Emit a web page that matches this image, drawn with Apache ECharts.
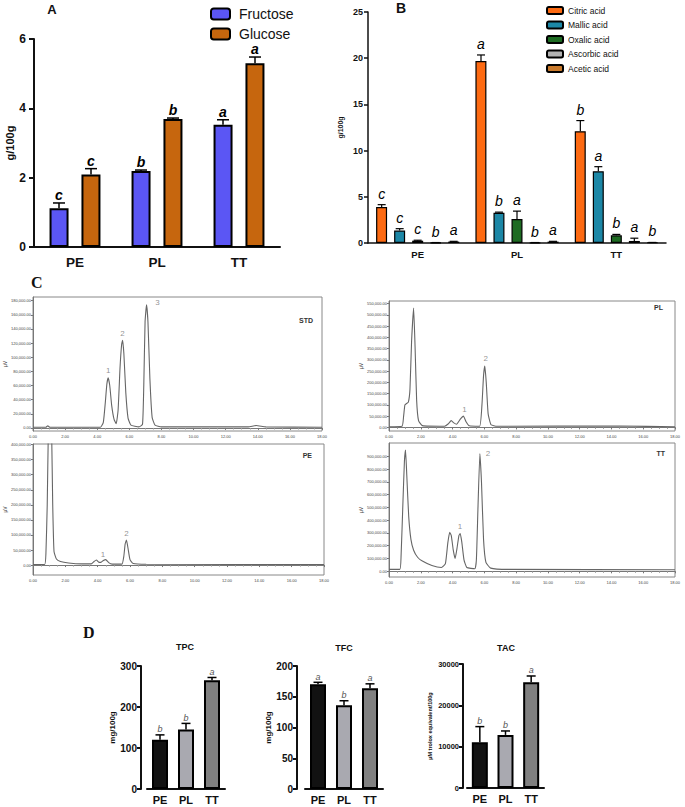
<!DOCTYPE html>
<html><head><meta charset="utf-8">
<script src="https://cdn.jsdelivr.net/npm/echarts@6/dist/echarts.min.js"></script>
<style>html,body{margin:0;padding:0;background:#fff}#c{width:685px;height:807px}</style>
</head><body><div id="c"></div>
<script>
// ---------- DATA ----------
const groups = ['PE', 'PL', 'TT'];

// Panel A: sugars (g/100g)
const fructose = [1.12, 2.19, 3.53];
const fructoseErr = [0.15, 0.03, 0.14];
const fructoseLetters = ['c', 'b', 'a'];
const glucose = [2.09, 3.69, 5.30];
const glucoseErr = [0.17, 0.03, 0.18];
const glucoseLetters = ['c', 'b', 'a'];
const sugarTicks = [0, 2, 4, 6];

// Panel B: organic acids (g/100g)
const acidNames = ['Citric acid', 'Mallic acid', 'Oxalic acid', 'Ascorbic acid', 'Acetic acid'];
const citric = [3.9, 19.7, 12.1];
const citricErr = [0.25, 0.65, 1.15];
const citricLetters = ['c', 'a', 'b'];
const mallic = [1.35, 3.28, 7.76];
const mallicErr = [0.2, 0.06, 0.5];
const mallicLetters = ['c', 'b', 'a'];
const oxalic = [0.25, 2.6, 0.83];
const oxalicErr = [0.05, 0.85, 0.1];
const oxalicLetters = ['c', 'a', 'b'];
const ascorbic = [0.04, 0.04, 0.22];
const ascorbicErr = [0.01, 0.01, 0.3];
const ascorbicLetters = ['b', 'b', 'a'];
const acetic = [0.15, 0.15, 0.05];
const aceticErr = [0.03, 0.03, 0.01];
const aceticLetters = ['a', 'a', 'b'];
const acidTicks = [0, 5, 10, 15, 20, 25];

// Panel C: chromatograms [time (min), signal (µV)]
const stdTrace = [[0,1000],[0.8,1000],[0.92,3000],[1.05,1000],[4.2,1000],[4.38,8000],[4.5,35000],[4.6,62000],[4.68,71000],[4.78,60000],[4.9,32000],[5.05,12000],[5.18,6000],[5.3,25000],[5.42,85000],[5.52,118000],[5.58,124000],[5.66,105000],[5.78,50000],[5.92,14000],[6.1,4000],[6.6,1500],[6.82,5000],[6.9,60000],[6.98,150000],[7.07,174000],[7.16,150000],[7.28,70000],[7.42,15000],[7.6,4000],[8.0,1500],[13.4,1500],[13.9,3500],[14.5,1500],[18,1000]];
const peTrace = [[0,2000],[0.72,2000],[0.8,40000],[0.88,200000],[0.95,450000],[1.05,620000],[1.15,450000],[1.22,200000],[1.3,45000],[1.45,20000],[1.7,12000],[2.2,7000],[3.0,4000],[3.6,4000],[3.78,12000],[3.92,17000],[4.08,9000],[4.2,9000],[4.35,15000],[4.5,18000],[4.68,8000],[4.9,3000],[5.5,3000],[5.62,30000],[5.7,70000],[5.78,83000],[5.88,55000],[6.0,18000],[6.2,5000],[7.0,2500],[18,2000]];
const plTrace = [[0,3000],[0.82,5000],[0.92,50000],[1.0,100000],[1.1,106000],[1.22,112000],[1.32,170000],[1.42,380000],[1.55,530000],[1.64,360000],[1.74,120000],[1.86,30000],[2.1,8000],[3.5,5000],[3.72,15000],[3.92,30000],[4.08,20000],[4.25,14000],[4.5,38000],[4.68,50000],[4.85,25000],[5.05,7000],[5.7,5000],[5.85,100000],[5.95,230000],[6.03,272000],[6.12,200000],[6.24,60000],[6.42,12000],[6.8,5000],[14.5,6000],[18,3000]];
const ttTrace = [[0,15000],[0.68,15000],[0.76,120000],[0.88,550000],[0.97,860000],[1.04,948000],[1.12,750000],[1.24,430000],[1.38,250000],[1.55,165000],[1.8,110000],[2.1,80000],[2.7,45000],[3.3,30000],[3.55,60000],[3.7,220000],[3.82,305000],[3.92,280000],[4.04,170000],[4.16,100000],[4.28,180000],[4.4,280000],[4.48,295000],[4.58,230000],[4.72,90000],[4.9,30000],[5.4,20000],[5.5,90000],[5.6,500000],[5.72,922000],[5.82,700000],[5.95,250000],[6.1,70000],[6.4,25000],[7.5,15000],[18,12000]];
const stdPeaks = [[4.68, 71000, '1'], [5.58, 124000, '2'], [7.07, 174000, '3']];
const pePeaks = [[4.45, 18000, '1'], [5.78, 83000, '2']];
const plPeaks = [[4.68, 50000, '1'], [6.03, 272000, '2']];
const ttPeaks = [[4.47, 295000, '1'], [5.72, 922000, '2']];
const stdYTicks = [0,20000,40000,60000,80000,100000,120000,140000,160000,180000];
const peYTicks = [0,50000,100000,150000,200000,250000,300000,350000,400000];
const plYTicks = [0,50000,100000,150000,200000,250000,300000,350000,400000,450000,500000,550000];
const ttYTicks = [0,100000,200000,300000,400000,500000,600000,700000,800000,900000];

// Panel D
const tpc = [120, 145, 265];
const tpcErr = [12, 15, 7];
const tpcLetters = ['b', 'b', 'a'];
const tfc = [170.5, 136, 164];
const tfcErr = [3, 7.5, 7];
const tfcLetters = ['a', 'b', 'a'];
const tac = [11050, 12850, 25600];
const tacErr = [3800, 950, 1500];
const tacLetters = ['b', 'b', 'a'];
const tpcTicks = [0, 100, 200, 300];
const tfcTicks = [0, 50, 100, 150, 200];
const tacTicks = [0, 10000, 20000, 30000];

// ---------- STYLE ----------
const FONT = 'Liberation Sans, Arial, sans-serif';
const sugarColors = ['#5b56f4', '#c6660e'];
const acidColors = ['#fd6a12', '#1c87a6', '#1d6b22', '#b2b2b2', '#c97a2c'];
const dColors = ['#121212', '#a9a9b0', '#808080'];
const peakLabelOffsets = {
  std: [[0, -3], [0, -3], [11, 2]],
  pe: [[-2, -1], [0, -3]],
  pl: [[1, -3], [1, -4]],
  tt: [[0, -3], [8, 4]]
};

const chart = echarts.init(document.getElementById('c'), null, { renderer: 'svg' });

function errSeries(ax, values, errs, letters, i, n, bw, gap, o) {
  return {
    type: 'custom', xAxisIndex: ax, yAxisIndex: ax, z: 10, silent: true,
    data: values.map((v, k) => [k, v, errs[k]]),
    encode: { x: 0, y: 1 },
    renderItem: function (params, api) {
      const k = params.dataIndex;
      const base = api.coord([api.value(0), api.value(1)]);
      const top = api.coord([api.value(0), api.value(1) + api.value(2)]);
      const x = base[0] + (i - (n - 1) / 2) * (bw + gap);
      return {
        type: 'group', children: [
          { type: 'line', shape: { x1: x, y1: base[1], x2: x, y2: top[1] }, style: { stroke: '#000', lineWidth: o.lw } },
          { type: 'line', shape: { x1: x - o.cap / 2, y1: top[1], x2: x + o.cap / 2, y2: top[1] }, style: { stroke: '#000', lineWidth: o.lw } },
          { type: 'text', x: x, y: top[1] - o.lgap, style: { text: letters[k], fill: o.color, font: o.font, align: 'center', verticalAlign: 'bottom' } }
        ]
      };
    }
  };
}

function barAxisX(ax, o) {
  return {
    type: 'category', gridIndex: ax, data: groups,
    axisLine: { lineStyle: { color: '#111', width: o.lw } },
    axisTick: { alignWithLabel: true, length: o.tick, lineStyle: { color: '#111', width: o.lw } },
    axisLabel: { fontFamily: FONT, fontWeight: 'bold', fontSize: o.fs, color: '#111', margin: o.margin }
  };
}
function barAxisY(ax, ticks, o) {
  return {
    type: 'value', gridIndex: ax, min: ticks[0], max: ticks[ticks.length - 1], interval: ticks[1] - ticks[0],
    offset: o.offset || 0,
    name: o.name, nameLocation: 'middle', nameGap: o.nameGap,
    nameTextStyle: { fontFamily: FONT, fontWeight: 'bold', fontSize: o.nameFs, color: '#111' },
    axisLine: { show: true, lineStyle: { color: '#111', width: o.lw } },
    axisTick: { show: true, length: o.tick, lineStyle: { color: '#111', width: o.lw } },
    axisLabel: { fontFamily: FONT, fontWeight: 'bold', fontSize: o.fs, color: '#111', margin: o.margin, formatter: v => String(v) },
    splitLine: { show: false }
  };
}
const fmtNum = v => v.toLocaleString('en-US') + '.00';
function chromX(ax) {
  return {
    type: 'value', gridIndex: ax, min: 0, max: 18, interval: 2,
    axisLine: { show: true, lineStyle: { color: '#777', width: 1 } },
    axisTick: { show: true, length: 2, lineStyle: { color: '#777' } },
    minorTick: { show: true, splitNumber: 4, length: 1.5, lineStyle: { color: '#999' } },
    axisLabel: { fontFamily: FONT, fontSize: 4, color: '#444', margin: 3, formatter: v => v.toFixed(2) },
    splitLine: { show: false }
  };
}
function chromY(ax, min, max, ticks) {
  return {
    type: 'value', gridIndex: ax, min: min, max: max,
    name: 'µV', nameLocation: 'middle', nameGap: 21,
    nameTextStyle: { fontFamily: FONT, fontSize: 5, color: '#444' },
    axisLine: { show: true, lineStyle: { color: '#777', width: 1 } },
    axisTick: { show: true, length: 2, customValues: ticks, lineStyle: { color: '#777' } },
    axisLabel: { fontFamily: FONT, fontSize: 4, color: '#444', margin: 2, customValues: ticks, formatter: fmtNum },
    splitLine: { show: false }
  };
}
function chromLine(ax, data) {
  return { type: 'line', xAxisIndex: ax, yAxisIndex: ax, data: data, showSymbol: false, smooth: 0.15, clip: true, silent: true,
           lineStyle: { color: '#666', width: 1.1 } };
}
function peakSeries(ax, peaks, offs) {
  return {
    type: 'scatter', xAxisIndex: ax, yAxisIndex: ax, symbolSize: 0, silent: true,
    data: peaks.map((p, k) => ({ value: [p[0], p[1]], label: { show: true, position: 'top', distance: 0, offset: offs[k], formatter: p[2], fontFamily: FONT, fontSize: 8, color: '#777' } }))
  };
}

const G = { containLabel: false, outerBoundsMode: 'none' };
const FR = { show: true, borderColor: '#888', borderWidth: 1 };
const grids = [
  Object.assign({ left: 34, top: 39, width: 246, height: 208 }, G),   // A
  Object.assign({ left: 368, top: 12, width: 298, height: 231 }, G),  // B
  Object.assign({ left: 33, top: 297, width: 289, height: 134 }, G, FR),  // STD
  Object.assign({ left: 33, top: 444, width: 291, height: 131 }, G, FR),  // PE
  Object.assign({ left: 389, top: 301, width: 286, height: 130 }, G, FR), // PL
  Object.assign({ left: 389, top: 443, width: 286, height: 134 }, G, FR), // TT
  Object.assign({ left: 147, top: 666, width: 78, height: 123 }, G),  // TPC
  Object.assign({ left: 305, top: 666, width: 78, height: 123 }, G),  // TFC
  Object.assign({ left: 467, top: 664, width: 77, height: 124 }, G)   // TAC
];

const xAxes = [
  barAxisX(0, { lw: 2, tick: 5, fs: 13.5, margin: 8 }),
  barAxisX(1, { lw: 1.5, tick: 4, fs: 9.5, margin: 6 }),
  chromX(2), chromX(3), chromX(4), chromX(5),
  barAxisX(6, { lw: 2, tick: 4, fs: 11, margin: 5 }),
  barAxisX(7, { lw: 2, tick: 4, fs: 11, margin: 5 }),
  barAxisX(8, { lw: 2, tick: 4, fs: 11, margin: 5 })
];
const yAxes = [
  barAxisY(0, sugarTicks, { lw: 2, tick: 5, fs: 12, margin: 8, name: 'g/100g', nameGap: 19, nameFs: 11 }),
  barAxisY(1, acidTicks, { lw: 1.5, tick: 4, fs: 9, margin: 5, name: 'g/100g', nameGap: 24, nameFs: 7 }),
  chromY(2, -4300, 185200, stdYTicks),
  chromY(3, -33000, 402000, peYTicks),
  chromY(4, -16000, 561500, plYTicks),
  chromY(5, -44600, 1004000, ttYTicks),
  barAxisY(6, tpcTicks, { lw: 2, tick: 4, fs: 10, margin: 4, offset: 6, name: 'mg/100g', nameGap: 23, nameFs: 8 }),
  barAxisY(7, tfcTicks, { lw: 2, tick: 4, fs: 10, margin: 4, offset: 8, name: 'mg/100g', nameGap: 22, nameFs: 8 }),
  barAxisY(8, tacTicks, { lw: 2, tick: 4, fs: 7.5, margin: 4, offset: 4, name: 'µM trolox equivalent/100g', nameGap: 30, nameFs: 5.5 })
];

const series = [];
// A
const sugarSets = [['Fructose', fructose, fructoseErr, fructoseLetters], ['Glucose', glucose, glucoseErr, glucoseLetters]];
sugarSets.forEach((s, i) => {
  series.push({ type: 'bar', name: s[0], xAxisIndex: 0, yAxisIndex: 0, data: s[1], barWidth: 19, barGap: '68%',
    itemStyle: { color: sugarColors[i], borderColor: '#000', borderWidth: 2 } });
});
sugarSets.forEach((s, i) => {
  series.push(errSeries(0, s[1], s[2], s[3], i, 2, 19, 13, { lw: 1.5, cap: 12, lgap: 1, color: '#000', font: 'italic bold 14px ' + FONT }));
});
// B
const acidSets = [[citric, citricErr, citricLetters], [mallic, mallicErr, mallicLetters], [oxalic, oxalicErr, oxalicLetters], [ascorbic, ascorbicErr, ascorbicLetters], [acetic, aceticErr, aceticLetters]];
acidSets.forEach((s, i) => {
  series.push({ type: 'bar', name: acidNames[i], xAxisIndex: 1, yAxisIndex: 1, data: s[0], barWidth: 11, barGap: '64%',
    itemStyle: { color: acidColors[i], borderColor: '#000', borderWidth: 1.2 } });
});
acidSets.forEach((s, i) => {
  series.push(errSeries(1, s[0], s[1], s[2], i, 5, 11, 7, { lw: 1.2, cap: 8, lgap: 4, color: '#000', font: 'italic 14px ' + FONT }));
});
// C
series.push(chromLine(2, stdTrace), chromLine(3, peTrace), chromLine(4, plTrace), chromLine(5, ttTrace));
series.push(peakSeries(2, stdPeaks, peakLabelOffsets.std), peakSeries(3, pePeaks, peakLabelOffsets.pe),
            peakSeries(4, plPeaks, peakLabelOffsets.pl), peakSeries(5, ttPeaks, peakLabelOffsets.tt));
// D
[[6, tpc, tpcErr, tpcLetters], [7, tfc, tfcErr, tfcLetters], [8, tac, tacErr, tacLetters]].forEach(s => {
  series.push({ type: 'bar', xAxisIndex: s[0], yAxisIndex: s[0], barWidth: 16,
    data: s[1].map((v, k) => ({ value: v, itemStyle: { color: dColors[k] } })),
    itemStyle: { borderColor: '#000', borderWidth: 2 } });
  series.push(errSeries(s[0], s[1], s[2], s[3], 0, 1, 16, 0, { lw: 1.5, cap: 9, lgap: 1, color: '#555', font: 'italic 9px ' + FONT }));
});

function txt(x, y, text, font, align, fill) {
  return { type: 'text', x: x, y: y, silent: true, style: { text: text, font: font, fill: fill || '#111', align: align || 'center', verticalAlign: 'middle' } };
}
const SERIF = 'Liberation Serif, DejaVu Serif, serif';
const graphic = [
  txt(52, 9, 'A', 'bold 13px ' + FONT),
  txt(401, 8, 'B', 'bold 14px ' + FONT),
  txt(31, 282, 'C', 'bold 16px ' + SERIF, 'left'),
  txt(83, 632, 'D', 'bold 16px ' + SERIF, 'left'),
  txt(313, 320, 'STD', 'bold 7px ' + FONT, 'right', '#333'),
  txt(312, 455, 'PE', 'bold 7px ' + FONT, 'right', '#333'),
  txt(663, 307, 'PL', 'bold 7px ' + FONT, 'right', '#333'),
  txt(665, 453, 'TT', 'bold 7px ' + FONT, 'right', '#333'),
  txt(185, 647, 'TPC', 'bold 9px ' + FONT),
  txt(344, 648, 'TFC', 'bold 9px ' + FONT),
  txt(506, 648, 'TAC', 'bold 9px ' + FONT)
];

chart.setOption({
  animation: false,
  backgroundColor: '#fff',
  grid: grids,
  xAxis: xAxes,
  yAxis: yAxes,
  legend: [
    { data: ['Fructose', 'Glucose'], orient: 'vertical', left: 205, top: 2, itemWidth: 19, itemHeight: 11, itemGap: 6,
      selectedMode: false, textStyle: { fontFamily: FONT, fontSize: 14, color: '#111', padding: [0, 0, 0, 4] } },
    { data: acidNames, orient: 'vertical', left: 541, top: 1, itemWidth: 16, itemHeight: 7, itemGap: 5.5,
      selectedMode: false, textStyle: { fontFamily: FONT, fontSize: 8.5, color: '#111' } }
  ],
  graphic: graphic,
  series: series
});
</script></body></html>
